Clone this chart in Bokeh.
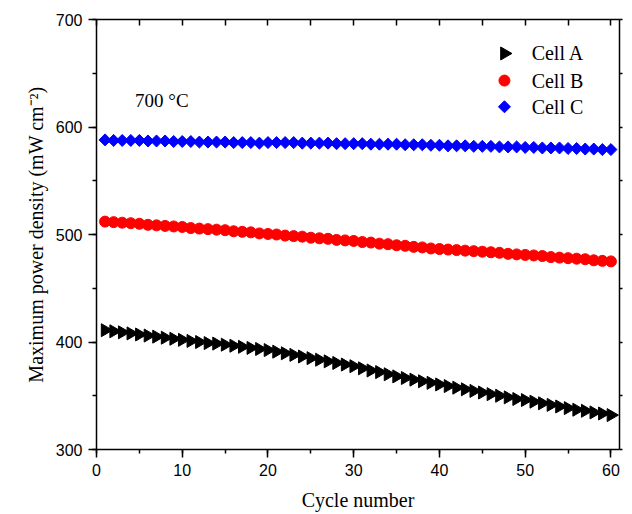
import numpy as np
from bokeh.plotting import figure
from bokeh.models import Range1d, LinearAxis, SingleIntervalTicker, Label, CustomLabelingPolicy
from bokeh.embed import file_html
from bokeh.resources import INLINE

cycles = list(range(1, 61))

cell_a = [411, 410, 409, 408, 407, 406, 405, 404, 403, 402,
          401, 400, 399, 398.5, 397.5, 396.5, 395.5, 394.5, 393.5, 392.5,
          391, 389.5, 388, 386.5, 385, 383.5, 382, 380.5, 379, 377.5,
          375.5, 373.5, 372, 370, 368, 366.5, 365, 363.5, 362, 360.5,
          359, 357.5, 356, 354.5, 353, 351.5, 350, 348.5, 347, 346,
          344.5, 343, 341.5, 340, 338.5, 337, 336, 334.5, 333.5, 332]

cell_b = [512, 511.5, 511, 510.5, 510, 509, 508.5, 508, 507.5, 507,
          506, 505.5, 505, 504.5, 504, 503, 502.5, 502, 501, 500.5,
          500, 499, 498.5, 498, 497, 496.5, 496, 495, 494.5, 494,
          493, 492.5, 491.5, 491, 490, 489.5, 488.5, 488, 487, 486.5,
          486, 485.5, 485, 484.5, 484, 483.5, 483, 482, 481.5, 481,
          480.5, 480, 479, 478.5, 478, 477.5, 477, 476, 475.5, 475]

cell_c = [588, 587.5, 587.5, 587.5, 587.5, 587, 587, 587, 586.5, 586.5,
          586.5, 586, 586, 586, 586, 585.5, 585.5, 585.5, 585, 585.5,
          585.5, 585.5, 585.5, 585, 585, 585, 585, 584.5, 584.5, 584.5,
          584.5, 584, 584, 584, 584, 583.5, 583.5, 583.5, 583, 583,
          582.5, 582.5, 582.5, 582, 582, 582, 581.5, 581.5, 581.5, 581,
          581, 580.5, 580.5, 580.5, 580, 580, 579.5, 579.5, 579, 579]

labels = ["Cell A", "Cell B", "Cell C"]

SERIF = "Liberation Serif"
SANS = "Liberation Sans"

# legend layout (fractions of the plot frame)
LEG_KEY_FX = 0.78
LEG_TEXT_FX = 0.832
LEG_FY = [0.921, 0.858, 0.797]

X0, X1, Y0, Y1 = 0, 61, 300, 700

p = figure(width=632, height=514, output_backend="svg", toolbar_location=None,
           x_range=Range1d(X0, X1), y_range=Range1d(Y0, Y1),
           min_border_left=96, min_border_right=13, min_border_top=19, min_border_bottom=65)
p.xgrid.visible = False
p.ygrid.visible = False
p.outline_line_color = None
p.background_fill_color = "white"
p.border_fill_color = "white"

styles = [dict(marker="triangle", size=13, angle=-np.pi/2, fill_color="black", line_color="black"),
          dict(marker="circle", size=11, fill_color="#ff0000", line_color="#ff0000"),
          dict(marker="square", size=8.5, angle=np.pi/4, fill_color="#0000ff", line_color="#0000ff")]

for ys, st in zip([cell_a, cell_b, cell_c], styles):
    p.scatter(cycles, ys, **st)

# manual legend (so that rotated markers keep their orientation)
kx = X0 + LEG_KEY_FX * (X1 - X0)
tx = X0 + LEG_TEXT_FX * (X1 - X0)
for lab, fy, st in zip(labels, LEG_FY, styles):
    ky = Y0 + fy * (Y1 - Y0)
    p.scatter([kx], [ky], **st)
    p.add_layout(Label(x=tx, y=ky, text=lab, text_font=SERIF, text_font_size="20px",
                       text_color="black", text_baseline="middle"))

# bottom axis
xa = p.xaxis[0]
xa.ticker = SingleIntervalTicker(interval=10, num_minor_ticks=2)
xa.axis_label = "Cycle number"
# left axis
ya = p.yaxis[0]
ya.ticker = SingleIntervalTicker(interval=100, num_minor_ticks=2)
ya.axis_label = "Maximum power density (mW cm\u207b\u00b2)"

for ax in (xa, ya):
    ax.axis_line_width = 1.5
    ax.axis_line_color = "black"
    ax.major_tick_line_width = 1.5
    ax.minor_tick_line_width = 1.5
    ax.major_tick_out = 8
    ax.major_tick_in = 0
    ax.minor_tick_out = 4
    ax.minor_tick_in = 0
    ax.major_label_text_font = SANS
    ax.major_label_text_font_size = "16px"
    ax.major_label_text_color = "black"
    ax.axis_label_text_font = SERIF
    ax.axis_label_text_font_size = "20px"
    ax.axis_label_text_font_style = "normal"
    ax.axis_label_text_color = "black"
    ax.major_label_standoff = 6
xa.axis_label_standoff = 10
ya.axis_label_standoff = 6

hide = "for (const i of indices) { indices.unset(i) } return indices"
top = LinearAxis(ticker=SingleIntervalTicker(interval=5, num_minor_ticks=0))
right = LinearAxis(ticker=SingleIntervalTicker(interval=50, num_minor_ticks=0))
for ax in (top, right):
    ax.axis_line_width = 1.5
    ax.major_tick_line_width = 1.5
    ax.major_label_text_font_size = "1px"
    ax.major_label_policy = CustomLabelingPolicy(code=hide)
    ax.major_label_standoff = 0
    ax.minor_tick_out = 0
    ax.minor_tick_in = 0
top.major_tick_in = 6
top.major_tick_out = 0
right.major_tick_in = 0
right.major_tick_out = 3
p.add_layout(top, "above")
p.add_layout(right, "right")

p.add_layout(Label(x=4.5, y=615, text="700 \u00b0C", text_font=SERIF,
                   text_font_size="19px", text_color="black"))

open("out.html", "w").write(file_html(p, INLINE))
